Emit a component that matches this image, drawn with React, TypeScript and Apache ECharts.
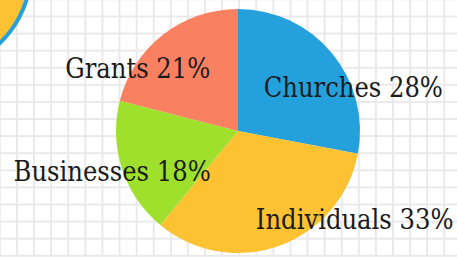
import React, { useEffect, useRef } from "react";
import * as echarts from "echarts";

const categories = ["Churches", "Individuals", "Businesses", "Grants"];
const values = [28, 33, 18, 21];
const colors = ["#24a1dc", "#fcc232", "#9ee02c", "#fa8062"];
// label nudges from the inner label anchor (styling only)
const labelNudges: [number, number][] = [
  [66, -3],
  [95, 28],
  [-65, 21],
  [-61, -12],
];

export default function App() {
  const ref = useRef<HTMLDivElement>(null);
  useEffect(() => {
    if (!ref.current) return;
    const chart = echarts.init(ref.current, undefined, { renderer: "svg" });
    chart.setOption({
      animation: false,
      backgroundColor: "transparent",
      graphic: [
        {
          type: "circle",
          shape: { cx: -70, cy: -30, r: 101 },
          style: { fill: "#fcc232", stroke: "#24a1dc", lineWidth: 4 },
          silent: true,
        },
      ],
      series: [
        {
          type: "pie",
          center: [238, 131],
          radius: [0, 122],
          startAngle: 90,
          clockwise: true,
          silent: true,
          label: {
            show: true,
            position: "inside",
            formatter: (p: any) => `${p.name} ${p.value}%`,
            color: "#1b1b1b",
            fontSize: 27,
            fontFamily: "'DejaVu Serif Condensed', 'DejaVu Serif', serif",
            align: "center",
          },
          labelLine: { show: false },
          labelLayout: (params: any) => {
            const n = labelNudges[params.dataIndex];
            return { dx: n[0], dy: n[1] };
          },
          itemStyle: { borderWidth: 0 },
          data: categories.map((name, i) => ({
            name,
            value: values[i],
            itemStyle: { color: colors[i] },
          })),
        },
      ],
    });
    return () => chart.dispose();
  }, []);
  return (
    <div
      style={{
        position: "fixed",
        left: 0,
        top: 0,
        width: 457,
        height: 257,
        backgroundColor: "#ffffff",
        backgroundImage:
          "linear-gradient(to right, #e9e9e9 0, #e9e9e9 1.5px, transparent 1.5px), linear-gradient(to bottom, #e9e9e9 0, #e9e9e9 1.5px, transparent 1.5px)",
        backgroundSize: "17.1px 17.1px",
        backgroundPosition: "16px 15.5px",
      }}
    >
      <div ref={ref} style={{ width: 457, height: 257 }} />
    </div>
  );
}
